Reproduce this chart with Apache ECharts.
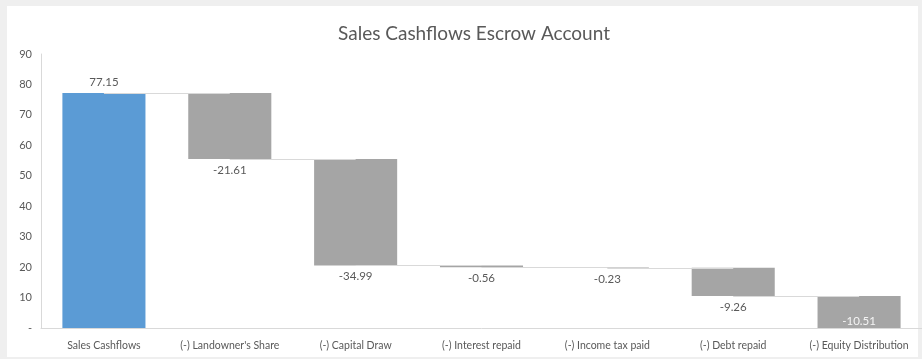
<!DOCTYPE html>
<html>
<head>
<meta charset="utf-8">
<script src="https://cdn.jsdelivr.net/npm/echarts@6/dist/echarts.min.js"></script>
<style>
  body { margin: 0; background: #efefef; }
  #panel { position: absolute; left: 7px; top: 6px; width: 911px; height: 351px; background: #fff; }
  #chart { position: absolute; left: 0; top: 0; width: 922px; height: 359px; }
</style>
</head>
<body>
<div id="panel"></div>
<div id="chart"></div>
<script>
var categories = ['Sales Cashflows', "(-) Landowner's Share", '(-) Capital Draw', '(-) Interest repaid',
  '(-) Income tax paid', '(-) Debt repaid', '(-) Equity Distribution'];
var startValue = 77.15;
var deductions = [-21.61, -34.99, -0.56, -0.23, -9.26, -10.51];
var yTicks = [0, 10, 20, 30, 40, 50, 60, 70, 80, 90];

// running totals for the waterfall
var levels = [startValue];
deductions.forEach(function (d) { levels.push(levels[levels.length - 1] + d); });

var baseData = [0];
var barData = [{ value: startValue, itemStyle: { color: '#5b9bd5' }, label: { position: 'top' } }];
deductions.forEach(function (d, i) {
  var top = levels[i];
  var bottom = Math.max(0, levels[i + 1]);
  baseData.push(bottom);
  var item = { value: top - bottom, delta: d };
  if (i === deductions.length - 1) {
    item.label = { position: 'insideBottom', color: '#f4f4f4', distance: 1 };
  }
  barData.push(item);
});

var connectors = [];
for (var i = 0; i < levels.length - 1; i++) {
  connectors.push([{ coord: [i, Math.max(0, levels[i])] }, { coord: [i + 1, Math.max(0, levels[i])] }]);
}

var chart = echarts.init(document.getElementById('chart'), null, { renderer: 'canvas' });

var option = {
  animation: false,
  textStyle: { fontFamily: 'Lato' },
  title: {
    text: 'Sales Cashflows Escrow Account',
    left: 469, top: 19, textAlign: 'center',
    textStyle: { fontSize: 19, fontWeight: 'normal', color: '#595959', fontFamily: 'Lato' }
  },
  grid: { left: 41, top: 54, width: 883, height: 274 },
  xAxis: {
    type: 'category',
    data: categories,
    axisTick: { show: false },
    axisLine: { lineStyle: { color: '#d9d9d9' } },
    axisLabel: { color: '#595959', fontSize: 10.5, margin: 12, interval: 0 }
  },
  yAxis: {
    type: 'value',
    min: yTicks[0], max: yTicks[yTicks.length - 1], interval: 10,
    splitLine: { show: false },
    axisLine: { show: true, lineStyle: { color: '#d9d9d9' } },
    axisTick: { show: false },
    axisLabel: {
      color: '#595959', fontSize: 11, margin: 9,
      formatter: function (v) { return v === 0 ? '-' : v; }
    }
  },
  series: [
    {
      type: 'bar', stack: 'w', silent: true, z: 1,
      itemStyle: { color: 'transparent' },
      data: baseData,
      markLine: {
        silent: true, symbol: 'none', label: { show: false },
        lineStyle: { color: '#d9d9d9', width: 1, type: 'solid' },
        data: connectors
      }
    },
    {
      type: 'bar', stack: 'w', z: 3,
      barCategoryGap: '34%',
      itemStyle: { color: '#a5a5a5' },
      label: {
        show: true, position: 'bottom', color: '#595959', fontSize: 11.5, distance: 5,
        formatter: function (p) { return p.dataIndex === 0 ? startValue.toFixed(2) : p.data.delta.toFixed(2); }
      },
      data: barData
    }
  ]
};

chart.setOption(option);
window.addEventListener('resize', chart.resize);
</script>
</body>
</html>
